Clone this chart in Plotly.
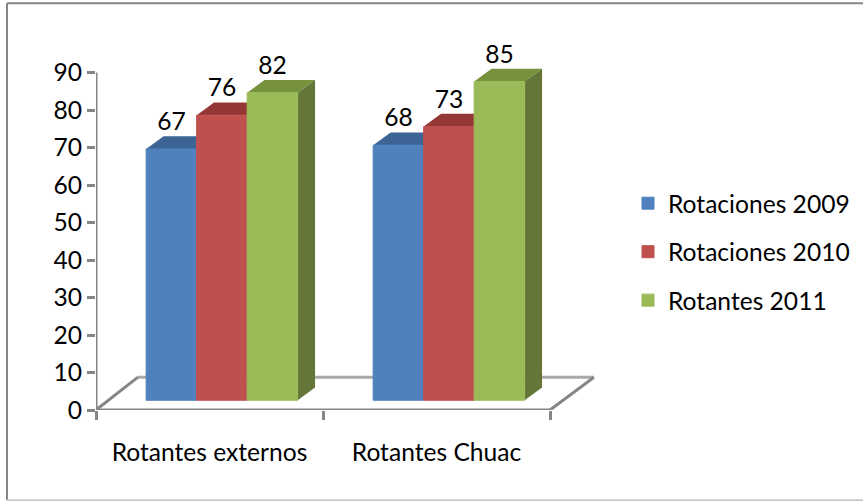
import plotly.graph_objects as go

categories = ["Rotantes externos", "Rotantes Chuac"]
series_names = ["Rotaciones 2009", "Rotaciones 2010", "Rotantes 2011"]
values_2009 = [67, 68]
values_2010 = [76, 73]
values_2011 = [82, 85]
y_ticks = [0, 10, 20, 30, 40, 50, 60, 70, 80, 90]

all_values = [values_2009, values_2010, values_2011]
front = ["#4F81BD", "#C0504D", "#9BBB59"]
top = ["#3C6595", "#953735", "#76923C"]
side = ["#3A5F8B", "#8C3836", "#647739"]
GRAY = "#868686"
FONT = "Lato"
FS = 24.6

W, H = 863, 501
PL, PR, PT, PB = 96, 600, 34.8, 409.8
CAT_PX = 227.0
BAR_W = 50.5 / CAT_PX
SHIFT = 12.4 / CAT_PX
DX = 17.4 / CAT_PX
DY = 3.39
BASE = 2.6


fig = go.Figure()
shapes = []

# Floor of the 3D plot, behind the bars
FLOOR_Y = 8.75
fl, fr = -0.5 + 42 / CAT_PX, -0.5 + 498 / CAT_PX
for x0, y0, x1, y1, c, w in [
    (fl, FLOOR_Y, fr, FLOOR_Y, "#A9A9A9", 3),
    (-0.5, 0, fl, FLOOR_Y, GRAY, 3),
    (1.5, 0, fr, FLOOR_Y, GRAY, 3),
]:
    shapes.append(dict(type="line", xref="x", yref="y", x0=x0, y0=y0, x1=x1, y1=y1,
                       line=dict(color=c, width=w), layer="below"))

label_x, label_y, label_t = [], [], []
for s, vals in enumerate(all_values):
    xs = [i + SHIFT + (s - 1) * BAR_W for i in range(len(vals))]
    fig.add_trace(go.Bar(
        x=xs, y=vals, base=BASE, width=BAR_W, name=series_names[s],
        marker=dict(color=front[s], line=dict(width=1, color=front[s])),
        legendgroup=series_names[s],
        hovertemplate="%{y}<extra>" + series_names[s] + "</extra>",
    ))
    for x, v in zip(xs, vals):
        l, r, t = x - BAR_W / 2, x + BAR_W / 2, v + BASE
        shapes.append(dict(
            type="path", xref="x", yref="y", layer="below", fillcolor=top[s], line=dict(width=0),
            path=f"M{l},{t} L{l+DX},{t+DY} L{r+DX},{t+DY} L{r},{t} Z"))
        if s == len(all_values) - 1:
            shapes.append(dict(
                type="path", xref="x", yref="y", layer="below", fillcolor=side[s], line=dict(width=0),
                path=f"M{r},{BASE} L{r+DX},{BASE+DY} L{r+DX},{t+DY} L{r},{t} Z"))
        label_x.append(x)
        label_y.append(v + 9.3)
        label_t.append(str(v))

fig.add_trace(go.Scatter(
    x=label_x, y=label_y, text=label_t, mode="text", textposition="middle center",
    textfont=dict(family=FONT, size=FS, color="#000000"),
    showlegend=False, hoverinfo="skip", cliponaxis=False))

# Axis lines (shorter than the plot area, which also has to hold the depth)
fig.add_trace(go.Scatter(x=[-0.5, 1.5], y=[0, 0], mode="lines", line=dict(color=GRAY, width=3),
                         showlegend=False, hoverinfo="skip", cliponaxis=False))
fig.add_trace(go.Scatter(x=[-0.5, -0.5], y=[0, 90], mode="lines", line=dict(color=GRAY, width=3),
                         showlegend=False, hoverinfo="skip", cliponaxis=False))

# Outer chart frame
for x0, y0, x1, y1, c, w in [
    (7, 3, 7, 500, GRAY, 2),
    (7, 3, 863, 3, GRAY, 2),
    (7, 500, 863, 500, "#C8C8C8", 2),
]:
    shapes.append(dict(type="line", xref="paper", yref="paper",
                       x0=(x0 - PL) / (PR - PL), x1=(x1 - PL) / (PR - PL),
                       y0=(PB - y0) / (PB - PT), y1=(PB - y1) / (PB - PT),
                       line=dict(color=c, width=w), layer="above"))

fig.update_layout(
    width=W, height=H,
    margin=dict(l=PL, r=W - PR, t=PT, b=H - PB, pad=0, autoexpand=False),
    paper_bgcolor="white", plot_bgcolor="rgba(0,0,0,0)",
    barmode="overlay", shapes=shapes,
    font=dict(family=FONT, size=FS, color="#000000"),
    xaxis=dict(range=[-0.5, -0.5 + (PR - PL) / CAT_PX], tickvals=[0, 1], ticktext=categories,
               ticks="", showgrid=False, zeroline=False, showline=False, ticklabelstandoff=25,
               tickfont=dict(family=FONT, size=FS),
               minor=dict(tickmode="linear", tick0=-0.5, dtick=1, ticks="outside", ticklen=9,
                          tickwidth=2.5, tickcolor=GRAY, showgrid=False)),
    yaxis=dict(range=[0, 100], tickvals=y_ticks, ticks="outside", ticklen=8, tickwidth=2.5,
               tickcolor=GRAY, showgrid=False, zeroline=False, showline=False,
               tickfont=dict(family=FONT, size=FS)),
    legend=dict(x=(628 - PL) / (PR - PL), xanchor="left", y=(PB - 180.5) / (PB - PT), yanchor="top",
                tracegroupgap=13.5, font=dict(family=FONT, size=FS), bgcolor="rgba(0,0,0,0)",
                itemclick=False, itemdoubleclick=False),
)

fig.write_html("out.html", config={"displayModeBar": False},
               post_script="document.body.style.margin='0';document.body.style.overflow='hidden';")
